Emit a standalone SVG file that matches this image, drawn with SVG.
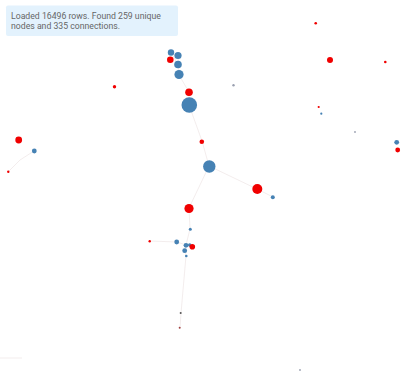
<svg xmlns="http://www.w3.org/2000/svg" width="405" height="379" viewBox="0 0 405 379">
<style>
.e{stroke:#ebe0e0;stroke-width:0.6;fill:none}
.b{fill:#4682b4}
.r{fill:#f00000}
.g{fill:#9aa0b0}
.info{font-family:Roboto,"Liberation Sans",sans-serif;font-size:8.7px;fill:#666}
</style>
<rect width="405" height="379" fill="#fff"/>
<g id="info">
<rect x="6" y="5.5" width="172" height="30.5" rx="2" fill="#e3f2fd"/>
<text class="info" x="11" y="19">Loaded 16496 rows. Found 259 unique</text>
<text class="info" x="11" y="29">nodes and 335 connections.</text>
</g>
<g id="connectors">
<line class="e" x1="171" y1="52" x2="178" y2="65"/>
<line class="e" x1="178" y1="56" x2="179" y2="75"/>
<line class="e" x1="179" y1="75" x2="189" y2="92"/>
<line class="e" x1="189" y1="92" x2="189" y2="105"/>
<line class="e" x1="189" y1="105" x2="202" y2="141"/>
<line class="e" x1="202" y1="141" x2="209" y2="166"/>
<line class="e" x1="209" y1="166" x2="257" y2="189"/>
<line class="e" x1="257" y1="189" x2="273" y2="197"/>
<line class="e" x1="209" y1="166" x2="189" y2="208"/>
<line class="e" x1="189" y1="208" x2="190" y2="229"/>
<line class="e" x1="190" y1="229" x2="186" y2="245"/>
<line class="e" x1="150" y1="241" x2="177" y2="242"/>
<line class="e" x1="177" y1="242" x2="192" y2="247"/>
<line class="e" x1="186" y1="245" x2="185" y2="251"/>
<line class="e" x1="185" y1="251" x2="186" y2="256"/>
<line class="e" x1="186" y1="256" x2="181" y2="313"/>
<line class="e" x1="181" y1="313" x2="180" y2="328"/>
<line class="e" x1="34" y1="151" x2="20" y2="160"/>
<line class="e" x1="20" y1="160" x2="8" y2="172"/>
<line class="e" x1="0" y1="358" x2="22" y2="358"/>
</g>
<g id="n1"><circle class="b" cx="171" cy="52.5" r="3.2"/></g>
<g id="n2"><circle class="b" cx="178" cy="55.5" r="3.6"/></g>
<g id="n3"><circle class="r" cx="170.3" cy="59.7" r="3.3"/></g>
<g id="n4"><circle class="b" cx="178" cy="64.5" r="3.8"/></g>
<g id="n5"><circle class="b" cx="179" cy="74.5" r="4.6"/></g>
<g id="n6"><circle class="r" cx="189" cy="92.3" r="3.8"/></g>
<g id="n7"><circle class="b" cx="189.3" cy="105" r="7.8"/></g>
<g id="n8"><circle class="r" cx="114.5" cy="86.8" r="1.7"/></g>
<g id="n9"><circle class="g" cx="233.5" cy="85.3" r="1.2"/></g>
<g id="n10"><circle class="r" cx="201.8" cy="141.7" r="2.3"/></g>
<g id="n11"><circle class="b" cx="209.3" cy="166.5" r="6.2"/></g>
<g id="n12"><circle class="r" cx="257.3" cy="189" r="5"/></g>
<g id="n13"><circle class="b" cx="272.8" cy="197.3" r="2"/></g>
<g id="n14"><circle class="r" cx="189" cy="208.5" r="4.6"/></g>
<g id="n15"><circle class="b" cx="190.3" cy="229.3" r="1.5"/></g>
<g id="n16"><circle class="b" cx="176.7" cy="242" r="2.4"/></g>
<g id="n17"><circle class="b" cx="186" cy="245.3" r="2.4"/></g>
<g id="n18"><circle class="b" cx="189.7" cy="245" r="1.8"/></g>
<g id="n19"><circle class="r" cx="192.3" cy="246.7" r="2.8"/></g>
<g id="n20"><circle class="b" cx="184.7" cy="250.7" r="2.4"/></g>
<g id="n21"><circle class="b" cx="186.3" cy="256" r="1.3"/></g>
<g id="n22"><circle class="r" cx="149.7" cy="241.3" r="1.2"/></g>
<g id="n23"><circle class="r" cx="18.7" cy="140" r="3.4"/></g>
<g id="n24"><circle class="b" cx="34.3" cy="151" r="2.4"/></g>
<g id="n25"><circle class="r" cx="8.3" cy="171.7" r="1.2"/></g>
<g id="n26"><circle cx="180.7" cy="313" r="1" fill="#555"/></g>
<g id="n27"><circle cx="179.7" cy="327.7" r="1" fill="#a04040"/></g>
<g id="n28"><circle class="r" cx="315.7" cy="23.3" r="1.3"/></g>
<g id="n29"><circle class="r" cx="330" cy="60" r="3"/></g>
<g id="n30"><circle class="r" cx="385.3" cy="62" r="1.3"/></g>
<g id="n31"><circle class="r" cx="318.7" cy="107" r="1.1"/></g>
<g id="n32"><circle class="b" cx="321.3" cy="113.7" r="1.1"/></g>
<g id="n33"><circle class="g" cx="355" cy="132" r="0.9"/></g>
<g id="n34"><circle class="b" cx="396.7" cy="142.3" r="2.4"/></g>
<g id="n35"><circle class="r" cx="397.7" cy="150" r="2.4"/></g>
<g id="n36"><circle class="g" cx="300" cy="370" r="0.9"/></g>
</svg>
